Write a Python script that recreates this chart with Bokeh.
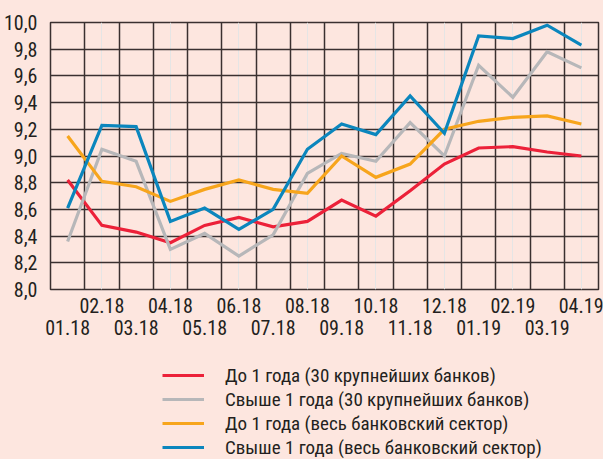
from bokeh.plotting import figure
from bokeh.layouts import column
from bokeh.models import (Range1d, FixedTicker, LinearAxis, Legend, LegendItem,
                          CustomJSTickFormatter, Grid)
from bokeh.embed import file_html
from bokeh.resources import INLINE

months = ["01.18", "02.18", "03.18", "04.18", "05.18", "06.18", "07.18", "08.18",
          "09.18", "10.18", "11.18", "12.18", "01.19", "02.19", "03.19", "04.19"]
red_top30_short = [8.82, 8.48, 8.43, 8.35, 8.48, 8.54, 8.47, 8.51,
                   8.67, 8.55, 8.74, 8.94, 9.06, 9.07, 9.03, 9.00]
gray_top30_long = [8.36, 9.05, 8.96, 8.30, 8.42, 8.25, 8.41, 8.87,
                   9.02, 8.96, 9.25, 9.00, 9.68, 9.44, 9.78, 9.66]
orange_all_short = [9.15, 8.81, 8.77, 8.66, 8.75, 8.82, 8.75, 8.72,
                    9.00, 8.84, 8.94, 9.20, 9.26, 9.29, 9.30, 9.24]
blue_all_long = [8.61, 9.23, 9.22, 8.51, 8.61, 8.45, 8.60, 9.05,
                 9.24, 9.16, 9.45, 9.17, 9.90, 9.88, 9.98, 9.83]
series_names = ["До 1 года (30 крупнейших банков)",
                "Свыше 1 года (30 крупнейших банков)",
                "До 1 года (весь банковский сектор)",
                "Свыше 1 года (весь банковский сектор)"]
y_ticks = [8.0, 8.2, 8.4, 8.6, 8.8, 9.0, 9.2, 9.4, 9.6, 9.8, 10.0]

FONT = "'Roboto Condensed', 'Liberation Sans Narrow', 'DejaVu Sans Condensed', Roboto"
BG = "#fde6df"
GRID = "#3a3030"
TXT = "#231f20"
colors = ["#ec2139", "#b7b7b9", "#f7a51c", "#0b86bd"]
all_series = [red_top30_short, gray_top30_long, orange_all_short, blue_all_long]

x = list(range(1, len(months) + 1))

p = figure(width=603, height=349, output_backend="svg", toolbar_location=None,
           x_range=Range1d(0.5, len(months) + 0.5), y_range=Range1d(8.0, 10.0),
           x_axis_location=None, min_border_left=49, min_border_right=5,
           min_border_top=22, min_border_bottom=60)
p.background_fill_color = BG
p.border_fill_color = BG
p.outline_line_color = GRID
p.outline_line_width = 1.5

# grids
p.ygrid[0].ticker = FixedTicker(ticks=y_ticks)
p.ygrid[0].grid_line_color = GRID
p.ygrid[0].grid_line_width = 1.5
xg = Grid(dimension=0, ticker=FixedTicker(ticks=[i + 0.5 for i in range(0, len(months) + 1)]),
          grid_line_color=GRID, grid_line_width=1.5)
p.add_layout(xg)

# y axis
ya = p.yaxis[0]
ya.ticker = FixedTicker(ticks=y_ticks)
ya.formatter = CustomJSTickFormatter(code="return tick.toFixed(1).replace('.', ',');")
ya.axis_line_color = None
ya.major_tick_line_color = None
ya.minor_tick_line_color = None
ya.major_label_text_font = FONT
ya.major_label_text_font_size = "20px"
ya.major_label_text_color = TXT
ya.major_label_standoff = 7

# x axis with two rows of labels
overrides = {}
for i, m in enumerate(months):
    overrides[i + 1] = (m + "\n") if (i % 2 == 1) else ("\n" + m)
xa = LinearAxis(ticker=FixedTicker(ticks=x), major_label_overrides=overrides)
xa.axis_line_color = None
xa.major_tick_line_color = None
xa.minor_tick_line_color = None
xa.major_label_text_font = FONT
xa.major_label_text_font_size = "20px"
xa.major_label_text_color = TXT
xa.major_label_text_line_height = 0.95
xa.major_label_standoff = -2
p.add_layout(xa, "below")

for ys, c in zip(all_series, colors):
    p.line(x, ys, line_color=c, line_width=3.2, line_join="miter")

# legend panel below the chart
pl = figure(width=603, height=110, output_backend="svg", toolbar_location=None,
            x_range=Range1d(-2, -1), y_range=Range1d(0, 1),
            x_axis_location=None, y_axis_location=None,
            min_border=0)
pl.background_fill_color = BG
pl.border_fill_color = BG
pl.outline_line_color = None
pl.xgrid.visible = False
pl.ygrid.visible = False
leg_renderers = []
for ys, c in zip(all_series, colors):
    leg_renderers.append(pl.line(x, ys, line_color=c, line_width=3.2))

legend = Legend(items=[LegendItem(label=n, renderers=[r]) for n, r in zip(series_names, leg_renderers)],
                location=(112, 0))
legend.background_fill_alpha = 0
legend.border_line_alpha = 0
legend.padding = 0
legend.margin = 0
legend.spacing = 0
legend.glyph_width = 42
legend.glyph_height = 24
legend.label_height = 24
legend.label_standoff = 21
legend.label_text_font = FONT
legend.label_text_font_size = "19px"
legend.label_text_color = TXT
pl.add_layout(legend, "center")

layout = column(p, pl, spacing=0, styles={"background-color": BG})
open("out.html", "w").write(file_html(layout, INLINE))
